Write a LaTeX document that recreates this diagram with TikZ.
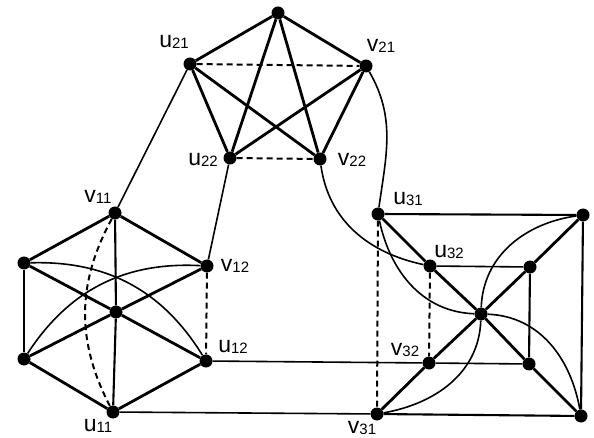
\documentclass[tikz,border=0pt]{standalone}
\usepackage{fontspec}
\setmainfont{Liberation Sans}
\newcommand{\lbl}[2]{#1\raisebox{-1.5pt}{\fontsize{15}{15}\selectfont #2}}
\begin{document}
\begin{tikzpicture}[x=1pt,y=-1pt,
  dot/.style={circle,fill=black,inner sep=0pt,minimum size=13pt},
  lab/.style={inner sep=0pt,font=\fontsize{23}{23}\selectfont},
  thk/.style={line width=2.8pt},
  med/.style={line width=2.1pt},
  thn/.style={line width=1.6pt},
  dsh/.style={line width=2pt,dash pattern=on 6pt off 4pt}]
\useasboundingbox (0,0) rectangle (594,438);
% nodes
\node[dot] (T) at (278,13) {};
\node[dot] (u21) at (190,64) {};
\node[dot] (v21) at (366,66) {};
\node[dot] (u22) at (230,158) {};
\node[dot] (v22) at (320,159) {};
\node[dot] (v11) at (115,213) {};
\node[dot] (v12) at (207,266) {};
\node[dot] (lt) at (24,263) {};
\node[dot] (c1) at (116,312) {};
\node[dot] (lb) at (24,359) {};
\node[dot] (u12) at (206,361) {};
\node[dot] (u11) at (113,412) {};
\node[dot] (u31) at (378,214) {};
\node[dot] (tr) at (583,215) {};
\node[dot] (u32) at (430,266) {};
\node[dot] (itr) at (530,267) {};
\node[dot] (c3) at (481,314) {};
\node[dot] (v32) at (429,363) {};
\node[dot] (ibr) at (529,364) {};
\node[dot] (v31) at (377,414) {};
\node[dot] (br) at (581,416) {};
% labels
\node[lab] (Lu21) at (174,42) {\lbl{u}{21}};
\node[lab] (Lv21) at (381,46) {\lbl{v}{21}};
\node[lab] (Lu22) at (203,160) {\lbl{u}{22}};
\node[lab] (Lv22) at (352,160) {\lbl{v}{22}};
\node[lab] (Lv11) at (98,197) {\lbl{v}{11}};
\node[lab] (Lv12) at (235,266) {\lbl{v}{12}};
\node[lab] (Lu12) at (233,347) {\lbl{u}{12}};
\node[lab] (Lu11) at (98,426) {\lbl{u}{11}};
\node[lab] (Lu31) at (408,199) {\lbl{u}{31}};
\node[lab] (Lu32) at (449,252) {\lbl{u}{32}};
\node[lab] (Lv32) at (405,350) {\lbl{v}{32}};
\node[lab] (Lv31) at (362,428) {\lbl{v}{31}};
% K5
\draw[thk] (T) -- (u21);
\draw[thk] (T) -- (v21);
\draw[thk] (T) -- (u22);
\draw[thk] (T) -- (v22);
\draw[thk] (u21) -- (u22);
\draw[thk] (u21) -- (v22);
\draw[thk] (v21) -- (u22);
\draw[thk] (v21) -- (v22);
\draw[dsh] (u21) -- (v21);
\draw[dsh] (u22) -- (v22);
% connections
\draw[thn] (u21) -- (v11);
\draw[thn] (u22) -- (v12);
\draw[thn] (v21) to[out=-60,in=82] (u31);
\draw[thn] (v22) to[out=-82,in=168] (u32);
\draw[thn] (u12) -- (v32);
\draw[thn] (u11) -- (v31);
% left
\draw[thk] (v11) -- (lt);
\draw[thk] (v11) -- (v12);
\draw[thk] (lt) -- (lb);
\draw[thk] (lb) -- (u11);
\draw[thk] (u11) -- (u12);
\draw[dsh] (v12) -- (u12);
\draw[med] (v11) -- (c1);
\draw[med] (c1) -- (u11);
\draw[thk] (lt) -- (c1);
\draw[thk] (c1) -- (u12);
\draw[thk] (lb) -- (c1);
\draw[thk] (c1) -- (v12);
\draw[thn] (lt) to[bend left=30] (u12);
\draw[thn] (lb) to[bend left=30] (v12);
\draw[dsh] (v11) to[bend right=28] (u11);
% right
\draw[med] (u31) -- (tr);
\draw[med] (tr) -- (br);
\draw[med] (br) -- (v31);
\draw[dsh] (u31) -- (v31);
\draw[thn] (u32) -- (itr);
\draw[med] (itr) -- (ibr);
\draw[thn] (ibr) -- (v32);
\draw[dsh] (u32) -- (v32);
\draw[thk] (u31) -- (u32);
\draw[thk] (u32) -- (c3);
\draw[thk] (c3) -- (ibr);
\draw[thk] (ibr) -- (br);
\draw[thk] (v31) -- (v32);
\draw[thk] (v32) -- (c3);
\draw[thk] (c3) -- (itr);
\draw[thk] (itr) -- (tr);
\draw[thn] (u31) to[out=-78,in=178] (c3);
\draw[thn] (c3) to[out=-2,in=100] (br);
\draw[thn] (v31) to[out=10,in=-92] (c3);
\draw[thn] (c3) to[out=88,in=188] (tr);
\end{tikzpicture}
\end{document}
